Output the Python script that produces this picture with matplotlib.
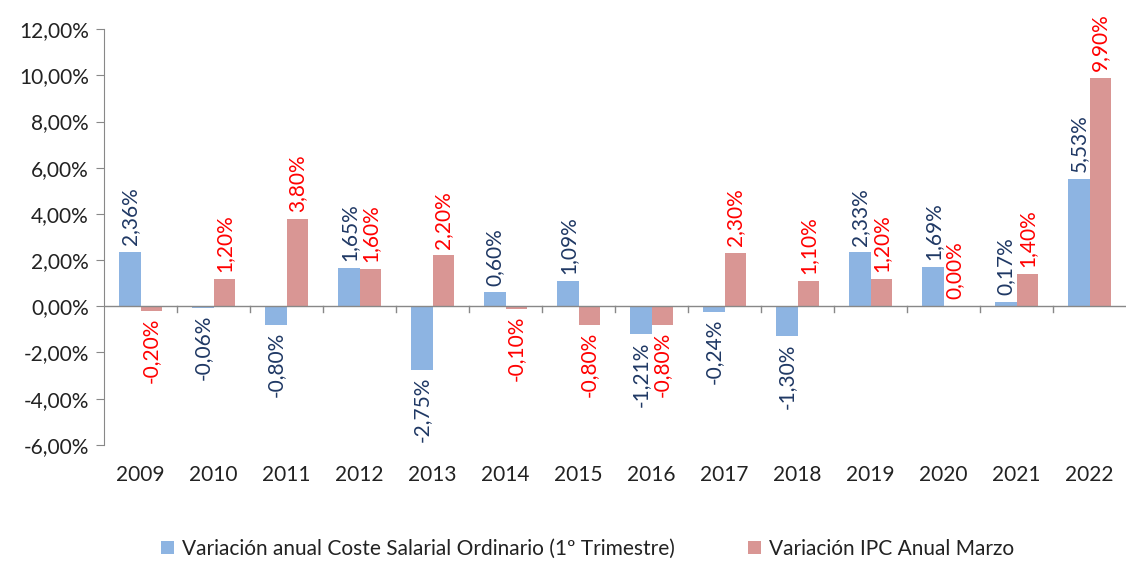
import matplotlib
matplotlib.use("Agg")
import matplotlib.pyplot as plt
import numpy as np
from matplotlib.ticker import FuncFormatter

plt.rcParams["font.family"] = ["Lato", "DejaVu Sans"]

years = ["2009", "2010", "2011", "2012", "2013", "2014", "2015",
         "2016", "2017", "2018", "2019", "2020", "2021", "2022"]
coste_salarial = [2.36, -0.06, -0.80, 1.65, -2.75, 0.60, 1.09,
                  -1.21, -0.24, -1.30, 2.33, 1.69, 0.17, 5.53]
ipc_marzo = [-0.20, 1.20, 3.80, 1.60, 2.20, -0.10, -0.80,
             -0.80, 2.30, 1.10, 1.20, 0.00, 1.40, 9.90]

label_azul = "Variación anual Coste Salarial Ordinario (1º Trimestre)"
label_rojo = "Variación IPC Anual Marzo"

color_azul = "#8DB4E2"
color_rojo = "#D99694"
texto_azul = "#1F3864"
texto_rojo = "#FF0000"
gris = "#888888"

fig = plt.figure(figsize=(11.26, 5.61), dpi=100)
ax = fig.add_axes([0.0924, 0.207, 0.9076, 0.741])

x = np.arange(len(years))
w = 0.29
b1 = ax.bar(x - w / 2, coste_salarial, w, color=color_azul, label=label_azul)
b2 = ax.bar(x + w / 2, ipc_marzo, w, color=color_rojo, label=label_rojo)

def etiquetas(xs, vals, color):
    for xi, v in zip(xs, vals):
        txt = f"{v:.2f}%".replace(".", ",")
        if v >= 0:
            ax.annotate(txt, (xi, v), xytext=(0, 5), textcoords="offset points",
                        rotation=90, ha="center", va="bottom", color=color, fontsize=15)
        else:
            ax.annotate(txt, (xi, v), xytext=(0, -5), textcoords="offset points",
                        rotation=90, ha="center", va="top", color=color, fontsize=15)

etiquetas(x - w / 2, coste_salarial, texto_azul)
etiquetas(x + w / 2, ipc_marzo, texto_rojo)

ax.set_ylim(-6, 12)
ax.set_xlim(-0.5, len(years) - 0.5)
ax.set_yticks(np.arange(-6, 13, 2))
ax.yaxis.set_major_formatter(FuncFormatter(lambda v, p: f"{v:.2f}%".replace(".", ",")))
ax.tick_params(axis="y", labelsize=15, colors=gris, labelcolor="#222222",
               length=6, direction="out", pad=5)

# eje horizontal en el 0, etiquetas abajo
ax.set_xticks([])
for s in ["top", "right", "bottom"]:
    ax.spines[s].set_visible(False)
ax.spines["left"].set_color(gris)
ax.axhline(0, color=gris, lw=1)
for b in np.arange(0.5, len(years) - 0.5, 1):
    ax.plot([b, b], [0, -0.25], color=gris, lw=1)
for xi, y in zip(x, years):
    ax.text(xi, -6.85, y, ha="center", va="top", fontsize=15, color="#222222")

fig.legend(handles=[b1, b2], loc="center", bbox_to_anchor=(0.522, 0.022),
           ncol=2, frameon=False, fontsize=15, handlelength=0.6, handleheight=0.6,
           handletextpad=0.4, columnspacing=3.5, labelcolor="#222222")

fig.savefig("out.png", dpi=100)
